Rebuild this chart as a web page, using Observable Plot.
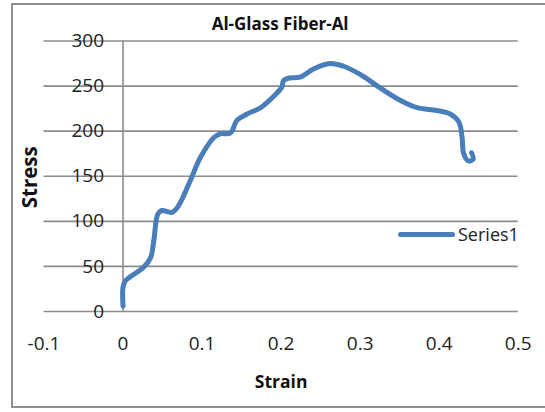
<!DOCTYPE html>
<html>
<head>
<meta charset="utf-8">
<script src="https://cdn.jsdelivr.net/npm/d3@7"></script>
<script src="https://cdn.jsdelivr.net/npm/@observablehq/plot@0.6"></script>
<style>
  html, body { margin: 0; padding: 0; background: #fff; }
  #wrap { position: relative; width: 545px; height: 412px; overflow: hidden; font-family: "Open Sans", sans-serif; }
  #border { position: absolute; left: 11px; top: 3px; width: 540px; height: 405px; border: 2px solid #8f8f8f; box-sizing: border-box; pointer-events: none; }
  #legend { position: absolute; left: 398px; top: 222px; display: flex; align-items: center; font-size: 18px; color: #222; }
  #legend .sw { width: 57px; height: 5px; border-radius: 3px; margin-right: 3px; }
</style>
</head>
<body>
<div id="wrap"><div id="border"></div></div>
<script>
const title = "Al-Glass Fiber-Al";
const xTitle = "Strain";
const yTitle = "Stress";
const seriesName = "Series1";
const seriesColor = "#4A7EBB";

const strain = [0, 0, 0.003, 0.026, 0.035, 0.039, 0.044, 0.049, 0.062, 0.070, 0.085, 0.098, 0.115, 0.123, 0.136, 0.144, 0.157, 0.174, 0.191, 0.201, 0.203, 0.210, 0.224, 0.241, 0.262, 0.279, 0.300, 0.322, 0.347, 0.372, 0.397, 0.414, 0.425, 0.429, 0.431, 0.437, 0.443, 0.441];
const stress = [6, 27, 34, 49, 60, 79, 108, 112, 110, 117, 145, 171, 193, 197, 198, 212, 219, 226, 239, 249, 256, 259, 260, 269, 275, 272, 263, 250, 236, 226, 223, 219, 210, 193, 175, 167, 169, 176];

const xTicks = [-0.1, 0, 0.1, 0.2, 0.3, 0.4, 0.5];
const xTickLabels = ["-0.1", "0", "0.1", "0.2", "0.3", "0.4", "0.5"];
const yTicks = [0, 50, 100, 150, 200, 250, 300];
const yTickLabels = ["0", "50", "100", "150", "200", "250", "300"];

const data = strain.map((s, i) => ({strain: s, stress: stress[i]}));
const gridColor = "#8c8c8c";

const chart = Plot.plot({
  width: 545,
  height: 412,
  marginLeft: 43.5,
  marginRight: 27.3,
  marginTop: 40.5,
  marginBottom: 101,
  style: {fontFamily: "'Open Sans', sans-serif", background: "transparent", overflow: "visible"},
  x: {domain: [-0.1, 0.5], axis: null},
  y: {domain: [0, 300], axis: null},
  marks: [
    Plot.ruleY(yTicks, {y: d => d, x1: -0.1, x2: 0.5, stroke: gridColor, strokeWidth: 1.6}),
    Plot.ruleX([0], {y1: 0, y2: 300, stroke: gridColor, strokeWidth: 1.6}),
    Plot.text(yTicks, {x: 0, y: d => d, text: (d, i) => yTickLabels[i], dx: -19, textAnchor: "end", fontSize: 19, fill: "#222", lineAnchor: "middle"}),
    Plot.text(xTicks, {x: d => d, y: 0, text: (d, i) => xTickLabels[i], dy: 32, fontSize: 19, fill: "#222", lineAnchor: "middle"}),
    Plot.line(data, {x: "strain", y: "stress", curve: "catmull-rom", stroke: seriesColor, strokeWidth: 5, strokeLinecap: "round", strokeLinejoin: "round"}),
    Plot.text([title], {frameAnchor: "top", dx: -1, dy: -16, text: d => d, fontSize: 17, fontWeight: "bold", fill: "#111", lineAnchor: "middle"}),
    Plot.text([xTitle], {frameAnchor: "bottom", dy: 71, text: d => d, fontSize: 17.5, fontWeight: "bold", fill: "#111", lineAnchor: "middle"}),
    Plot.text([yTitle], {frameAnchor: "left", textAnchor: "middle", dx: -14, dy: 1, rotate: -90, text: d => d, fontSize: 20.5, fontWeight: "bold", fill: "#111", lineAnchor: "middle"})
  ]
});

const wrap = document.getElementById("wrap");
chart.style.position = "absolute";
chart.style.left = "0px";
chart.style.top = "0px";
wrap.insertBefore(chart, wrap.firstChild);

const legend = document.createElement("div");
legend.id = "legend";
const sw = document.createElement("div");
sw.className = "sw";
sw.style.background = seriesColor;
const lab = document.createElement("span");
lab.textContent = seriesName;
legend.appendChild(sw);
legend.appendChild(lab);
wrap.appendChild(legend);
</script>
</body>
</html>
